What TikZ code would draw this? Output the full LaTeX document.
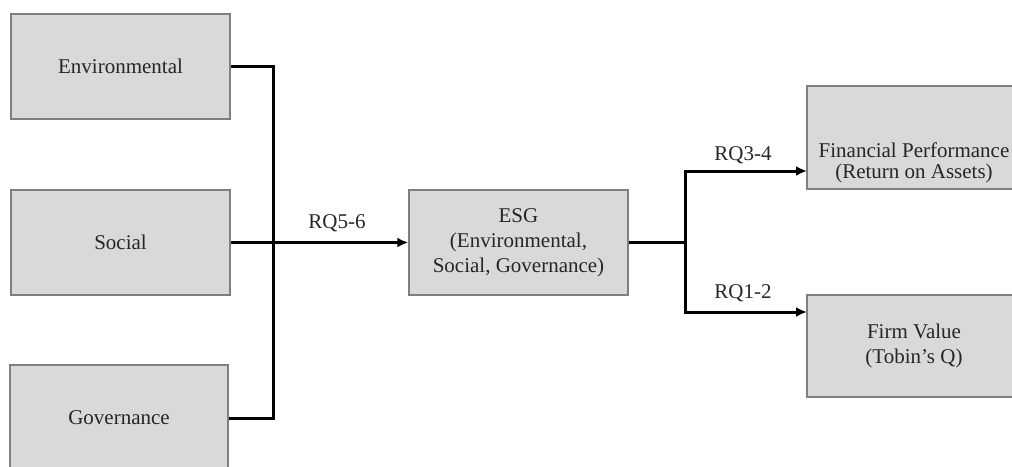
\documentclass[tikz,border=0pt]{standalone}
\usepackage{fontspec}
\setmainfont{Liberation Serif}
\usetikzlibrary{arrows.meta}
\definecolor{boxfill}{HTML}{D9D9D9}
\definecolor{boxline}{HTML}{7F7F7F}
\definecolor{txt}{HTML}{262626}
\begin{document}
\begin{tikzpicture}[x=1pt,y=-1pt,
  every node/.style={font=\fontsize{21}{25}\selectfont, text=txt},
  box/.style={draw=boxline, line width=1.5pt, fill=boxfill, inner sep=0pt, align=center},
  lbl/.style={inner sep=0pt, align=center},
  conn/.style={line width=3pt, black},
  arr/.style={conn, -{Latex[length=11pt,width=10pt]}}]
\clip (0,0) rectangle (1012,466);
\node[box, minimum width=219pt, minimum height=105pt] (env) at (120.5,66.5) {Environmental};
\node[box, minimum width=219pt, minimum height=105pt] (soc) at (120.5,242.5) {Social};
\node[box, minimum width=218pt, minimum height=120pt] (gov) at (119,425) {};
\node[lbl] (govt) at (119,418) {Governance};
\node[box, minimum width=219pt, minimum height=105pt] (esg) at (518.5,242.5) {ESG\\(Environmental,\\Social, Governance)};
\node[box, minimum width=214pt, minimum height=103pt] (fp) at (914,137.5) {};
\node[lbl, font=\fontsize{21}{21}\selectfont] (fpt) at (914,163) {Financial Performance\\(Return on Assets)};
\node[box, minimum width=214pt, minimum height=102pt] (fv) at (914,346) {Firm Value\\(Tobin’s Q)};
\coordinate (join) at (273,242.5);
\coordinate (split) at (685,242.5);
\coordinate (fpin) at (807,171);
\coordinate (fvin) at (807,312);
\draw[conn] (env.east) -| (join);
\draw[conn] (gov.east |- govt.center) -| (join);
\draw[arr] (soc.east) -- (esg.west);
\draw[conn] (esg.east) -- (split);
\draw[arr] (split) |- (fpin);
\draw[arr] (split) |- (fvin);
\node[lbl] (rq56) at (337,223) {RQ5-6};
\node[lbl] (rq34) at (743,155) {RQ3-4};
\node[lbl] (rq12) at (743,293) {RQ1-2};
\end{tikzpicture}
\end{document}
